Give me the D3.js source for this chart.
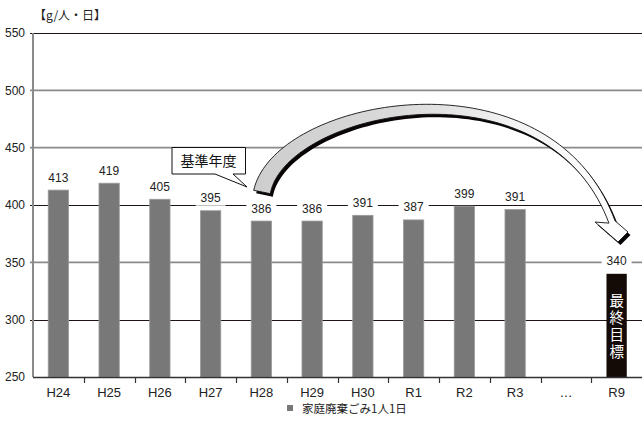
<!DOCTYPE html>
<html>
<head>
<meta charset="utf-8">
<script src="https://cdn.jsdelivr.net/npm/d3@7"></script>
<style>
  body { margin: 0; background: #fff; }
  svg { display: block; }
</style>
</head>
<body>
<div id="chart"></div>
<script>
// chart data
var categories = ["H24", "H25", "H26", "H27", "H28", "H29", "H30", "R1", "R2", "R3", "…", "R9"];
var values = [413, 419, 405, 395, 386, 386, 391, 387, 399, 396, null, 340];
var valueLabels = ["413", "419", "405", "395", "386", "386", "391", "387", "399", "391", "", "340"];
var yTicks = [250, 300, 350, 400, 450, 500, 550];
var darkGrid = [550, 400, 300];
var goalCategory = "R9";
var seriesName = "家庭廃棄ごみ1人1日";
var unitText = "【g/人・日】";
var baseYearText = "基準年度";
var goalText = "最終目標";

var W = 642, H = 426;
var plotL = 33, plotR = 642, plotT = 33, plotB = 377;
var numFont = "'Liberation Sans', Arial, sans-serif";
var jpFont = "'Noto Sans CJK JP', sans-serif";

var svg = d3.select("#chart").append("svg")
    .attr("width", W)
    .attr("height", H);

var x = d3.scaleBand().domain(categories).range([plotL, plotR]);
var y = d3.scaleLinear().domain([250, 550]).range([plotB, plotT]);
var barW = x.bandwidth() * 0.4;

// gradient for the big arrow
var defs = svg.append("defs");
var grad = defs.append("linearGradient")
    .attr("id", "arrowFill")
    .attr("gradientUnits", "userSpaceOnUse")
    .attr("x1", 250).attr("y1", 0)
    .attr("x2", 630).attr("y2", 0);
grad.append("stop").attr("offset", 0).attr("stop-color", "#cdcdcd");
grad.append("stop").attr("offset", 0.4).attr("stop-color", "#dadada");
grad.append("stop").attr("offset", 0.7).attr("stop-color", "#f4f4f4");
grad.append("stop").attr("offset", 1).attr("stop-color", "#ffffff");

// grid lines
function gy(d) { return darkGrid.indexOf(d) >= 0 ? Math.round(y(d)) + 0.5 : y(d); }
svg.append("g").selectAll("line")
    .data(yTicks.filter(function(d) { return d > 250; }))
    .enter().append("line")
    .attr("x1", plotL - 3)
    .attr("x2", plotR)
    .attr("y1", gy)
    .attr("y2", gy)
    .attr("stroke", function(d) { return darkGrid.indexOf(d) >= 0 ? "#1e1414" : "#8a8a8a"; })
    .attr("stroke-width", function(d) { return darkGrid.indexOf(d) >= 0 ? 1 : 1.6; });

// y axis line
svg.append("line")
    .attr("x1", plotL).attr("x2", plotL)
    .attr("y1", plotT).attr("y2", plotB)
    .attr("stroke", "#8a8a8a")
    .attr("stroke-width", 2);

// y tick labels
svg.append("g").selectAll("text")
    .data(yTicks)
    .enter().append("text")
    .attr("x", 25)
    .attr("y", function(d) { return y(d) + 4.3; })
    .attr("text-anchor", "end")
    .style("font-family", numFont)
    .style("font-size", "12px")
    .style("fill", "#222")
    .text(function(d) { return d; });

// unit label
svg.append("text")
    .attr("x", 34)
    .attr("y", 20)
    .style("font-family", jpFont)
    .style("font-size", "12px")
    .style("fill", "#222")
    .text(unitText);

// bars
var barData = categories.map(function(c, i) { return { cat: c, v: values[i], label: valueLabels[i] }; });

svg.append("g").selectAll("rect")
    .data(barData.filter(function(d) { return d.v != null; }))
    .enter().append("rect")
    .attr("x", function(d) { return x(d.cat) + (x.bandwidth() - barW) / 2; })
    .attr("y", function(d) { return y(d.v); })
    .attr("width", barW)
    .attr("height", function(d) { return y(250) - y(d.v); })
    .attr("fill", function(d) { return d.cat == goalCategory ? "#140b06" : "#787878"; })
    .attr("stroke", function(d) { return d.cat == goalCategory ? "none" : "#9a9a9a"; })
    .attr("stroke-width", 0.8);

// x axis line + ticks
svg.append("line")
    .attr("x1", plotL).attr("x2", plotR)
    .attr("y1", plotB + 0.5).attr("y2", plotB + 0.5)
    .attr("stroke", "#333")
    .attr("stroke-width", 1.6);

svg.append("g").selectAll("line")
    .data(categories.slice(1))
    .enter().append("line")
    .attr("x1", function(d) { return Math.round(x(d)) + 0.5; })
    .attr("x2", function(d) { return Math.round(x(d)) + 0.5; })
    .attr("y1", plotB)
    .attr("y2", plotB + 6)
    .attr("stroke", "#333")
    .attr("stroke-width", 1.2);

// x labels
svg.append("g").selectAll("text")
    .data(categories)
    .enter().append("text")
    .attr("x", function(d) { return x(d) + x.bandwidth() / 2; })
    .attr("y", plotB + 20)
    .attr("text-anchor", "middle")
    .style("font-family", numFont)
    .style("font-size", "13px")
    .style("fill", "#222")
    .text(function(d) { return d; });

// value labels with white boxes (they cut the grid lines)
var lab = svg.append("g").selectAll("g")
    .data(barData.filter(function(d) { return d.v != null; }))
    .enter().append("g");

lab.append("rect")
    .attr("x", function(d) { return x(d.cat) + x.bandwidth() / 2 - 15; })
    .attr("y", function(d) { return y(d.v) - 8.5 - 12; })
    .attr("width", 30)
    .attr("height", 15.5)
    .attr("fill", "#fff");

lab.append("text")
    .attr("x", function(d) { return x(d.cat) + x.bandwidth() / 2; })
    .attr("y", function(d) { return y(d.v) - 8.5; })
    .attr("text-anchor", "middle")
    .style("font-family", numFont)
    .style("font-size", "12px")
    .style("fill", "#222")
    .text(function(d) { return d.label; });

// goal text inside the R9 bar, vertical
var goalX = x(goalCategory) + x.bandwidth() / 2;
svg.append("text")
    .attr("x", goalX)
    .attr("y", y(340) + 19)
    .style("writing-mode", "vertical-rl")
    .style("font-family", jpFont)
    .style("font-size", "14.5px")
    .style("letter-spacing", "2.8px")
    .style("fill", "#fff")
    .text(goalText);

// callout "基準年度"
var tip = [x("H28") + 11, 187];
svg.append("path")
    .attr("d", "M172,147.5 H245.5 V174 H233 L" + tip[0] + "," + tip[1] + " L215,174 H172 Z")
    .attr("fill", "#fff")
    .attr("stroke", "#111")
    .attr("stroke-width", 1);

svg.append("text")
    .attr("x", 208.5)
    .attr("y", 166)
    .attr("text-anchor", "middle")
    .style("font-family", jpFont)
    .style("font-size", "14px")
    .style("fill", "#111")
    .text(baseYearText);

// big curved arrow from base year to the goal
var P0 = [262, 192], P1 = [280, 104], P2 = [548, 50], P3 = [612, 222];
function bez(t) {
  var a = (1 - t) * (1 - t) * (1 - t), b = 3 * (1 - t) * (1 - t) * t, c = 3 * (1 - t) * t * t, e = t * t * t;
  return [a * P0[0] + b * P1[0] + c * P2[0] + e * P3[0], a * P0[1] + b * P1[1] + c * P2[1] + e * P3[1]];
}
function bezD(t) {
  var a = 3 * (1 - t) * (1 - t), b = 6 * (1 - t) * t, c = 3 * t * t;
  return [a * (P1[0] - P0[0]) + b * (P2[0] - P1[0]) + c * (P3[0] - P2[0]),
          a * (P1[1] - P0[1]) + b * (P2[1] - P1[1]) + c * (P3[1] - P2[1])];
}
var outer = [], inner = [];
for (var k = 0; k <= 80; k++) {
  var t = k / 80;
  var p = bez(t), d = bezD(t);
  var len = Math.sqrt(d[0] * d[0] + d[1] * d[1]);
  var n = [-d[1] / len, d[0] / len];
  var w = 6.5 + 10.5 * Math.pow(1 - t, 1.5);
  outer.push([p[0] - n[0] * w / 2, p[1] - n[1] * w / 2]);
  inner.push([p[0] + n[0] * w / 2, p[1] + n[1] * w / 2]);
}
var head = [[P3[0] + 16, P3[1] + 10], [P3[0] + 6, P3[1] + 20], [P3[0] - 17, P3[1]]];
var arrowPts = outer.concat(head).concat(inner.reverse());
var arrowLine = d3.line().curve(d3.curveLinearClosed);

svg.append("path")
    .attr("d", arrowLine(arrowPts))
    .attr("transform", "translate(2.5,3)")
    .attr("fill", "#0a0505");

svg.append("path")
    .attr("d", arrowLine(arrowPts))
    .attr("fill", "url(#arrowFill)")
    .attr("stroke", "#111")
    .attr("stroke-width", 0.9)
    .attr("stroke-linejoin", "miter");

// legend
svg.append("rect")
    .attr("x", 287)
    .attr("y", 405)
    .attr("width", 6)
    .attr("height", 6)
    .attr("fill", "#787878");

svg.append("text")
    .attr("x", 302)
    .attr("y", 412.5)
    .style("font-family", jpFont)
    .style("font-size", "11.5px")
    .style("fill", "#222")
    .text(seriesName);
</script>
</body>
</html>
